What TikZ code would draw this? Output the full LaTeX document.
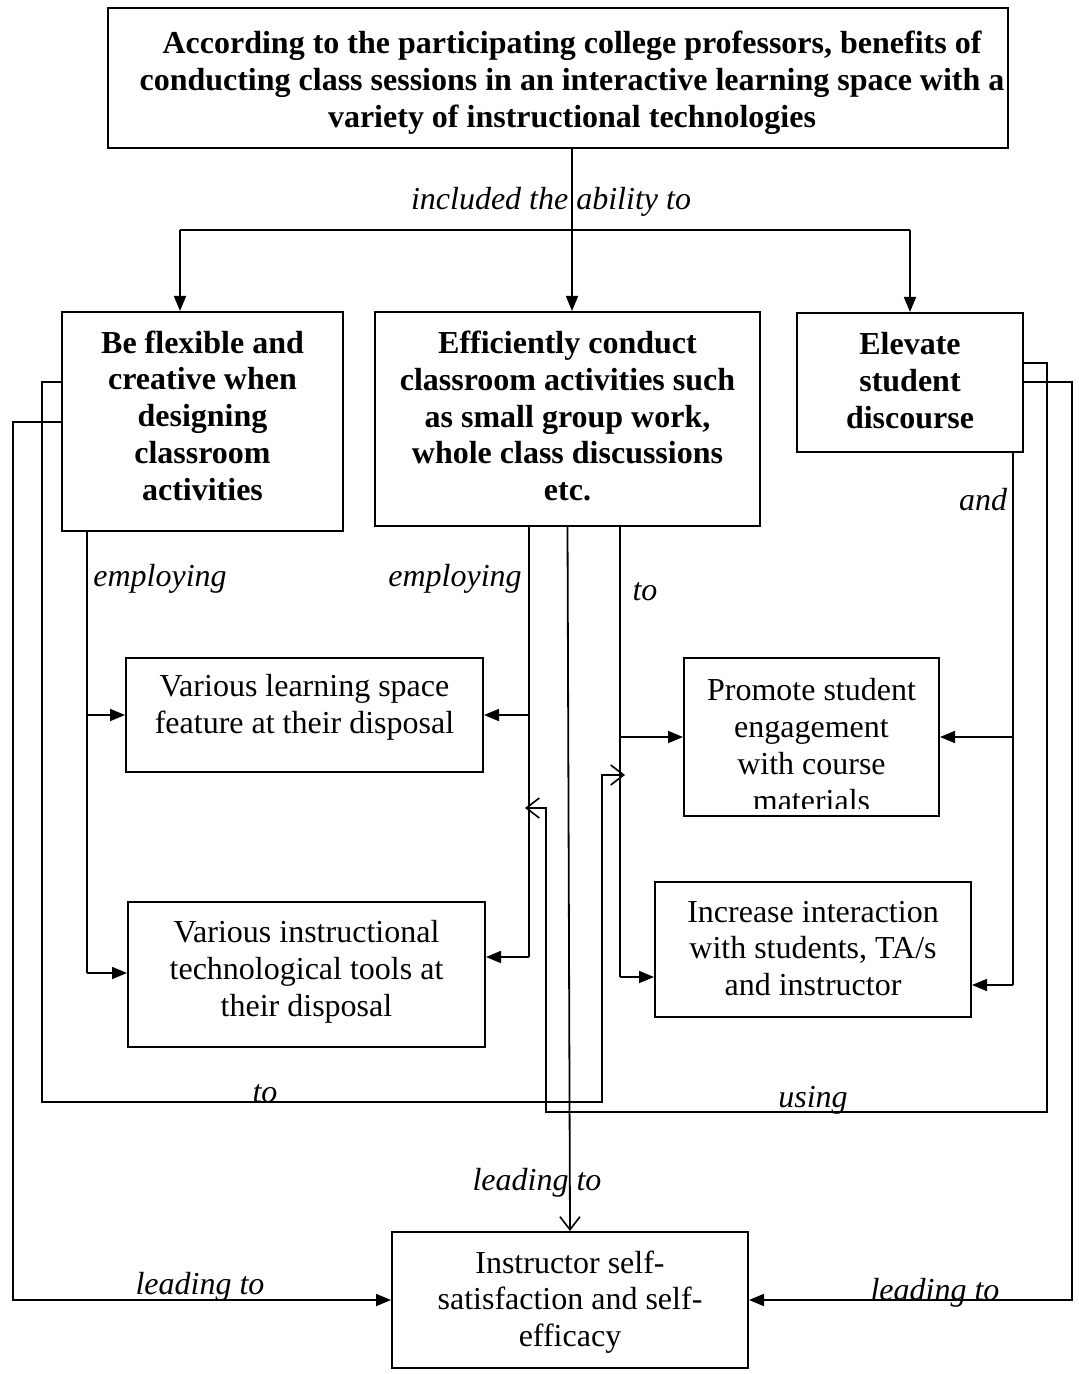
\documentclass[tikz,border=0pt]{standalone}
\usepackage{fontspec}
\setmainfont{Liberation Serif}
\usetikzlibrary{arrows.meta,calc}

\begin{document}
\begin{tikzpicture}[x=0.5pt,y=-0.5pt,
  font=\fontsize{16}{18.4}\selectfont,
  box/.style={draw,line width=1pt,inner sep=0pt,anchor=center},
  txt/.style={align=center,inner sep=0pt,anchor=center},
  hdtxt/.style={txt,font=\fontsize{16}{18.4}\selectfont\bfseries},
  conn/.style={line width=0.9pt},
  arr/.style={conn,-{Triangle[length=7.5pt,width=6pt]}},
  openarr/.style={conn,-{Straight Barb[length=6.5pt,width=10pt,line width=0.8pt]}},
  lbl/.style={font=\fontsize{16}{18.4}\selectfont\itshape,anchor=base,inner sep=0pt}]

\useasboundingbox[fill=white] (0,0) rectangle (1078,1374);

% frames
\node[box,minimum width=450pt,minimum height=70pt] (top) at (558,78) {};
\node[box,minimum width=140.5pt,minimum height=109.5pt] (A) at (202.5,421.5) {};
\node[box,minimum width=192.5pt,minimum height=107pt] (B) at (567.5,419) {};
\node[box,minimum width=113pt,minimum height=69.5pt] (C) at (910,382.5) {};
\node[box,minimum width=178.5pt,minimum height=57pt] (D) at (304.5,715) {};
\node[box,minimum width=178.5pt,minimum height=72.5pt] (E) at (306.5,974.5) {};
\node[box,minimum width=127.5pt,minimum height=79pt] (F) at (811.5,737) {};
\node[box,minimum width=158pt,minimum height=67.5pt] (G) at (813,949.5) {};
\node[box,minimum width=178pt,minimum height=68pt] (H) at (570,1300) {};

% texts of the frames
\node[hdtxt] (topText) at (572,83)
  {According to the participating college professors, benefits of\\
   conducting class sessions in an interactive learning space with a\\
   variety of instructional technologies};
\node[hdtxt] (AText) at (202.5,415.5)
  {Be flexible and\\creative when\\designing\\classroom\\activities};
\node[hdtxt] (BText) at (567.5,416)
  {Efficiently conduct\\classroom activities such\\as small group work,\\whole class discussions\\etc.};
\node[hdtxt] (CText) at (910,380.5) {Elevate\\student\\discourse};
\node[txt] (DText) at (304.5,707) {Various learning space\\feature at their disposal};
\node[txt] (EText) at (306.5,972) {Various instructional\\technological tools at\\their disposal};
\node[txt] (GText) at (813,948.5) {Increase interaction\\with students, TA/s\\and instructor};
\node[txt] (HText) at (570,1302) {Instructor self-\\satisfaction and self-\\efficacy};

% text of the engagement frame, cut off at its lower edge
\begin{scope}
  \clip (F.north west) rectangle (939,808);
  \node[txt,anchor=north] (FText) at (811.5,678)
    {Promote student\\engagement\\with course\\materials};
\end{scope}

% branching from the top frame
\coordinate (brL) at (180,230);
\coordinate (brR) at (910,230);
\draw[conn] (brL) -- (brR);
\draw[arr] (572,0 |- top.south) -- (572,0 |- B.north);
\draw[arr] (brL) -- (brL |- A.north);
\draw[arr] (brR) -- (brR |- C.north);
\node[lbl] (l1) at (551,210) {included the ability to};

% employing (left column)
\draw[conn] (87,0 |- A.south) -- (87,973);
\draw[arr] (87,715) -- (D.west);
\draw[arr] (87,973) -- (E.west |- 0,973);
\node[lbl] (l2) at (160,586) {employing};

% employing (middle column)
\draw[conn] (529,0 |- B.south) -- (529,957);
\draw[arr] (529,715) -- (D.east);
\draw[arr] (529,957) -- (E.east |- 0,957);
\node[lbl] (l3) at (455,586) {employing};

% to (middle column)
\draw[conn] (620,0 |- B.south) -- (620,977);
\draw[arr] (620,737) -- (F.west);
\draw[arr] (620,977) -- (G.west |- 0,977);
\node[lbl] (l4) at (645,600) {to};

% and (right column)
\draw[conn] (1013,0 |- C.south) -- (1013,985);
\draw[arr] (1013,737) -- (F.east);
\draw[arr] (1013,985) -- (G.east |- 0,985);
\node[lbl] (l5) at (983,510) {and};

% leading to (centre)
\draw[openarr] (B.south) -- (H.north);
\node[lbl] (l6) at (537,1190) {leading to};

% loop "to" from the left frame
\coordinate (toEnd) at (625,775);
\draw[openarr] (A.west |- 0,382) -- (42,382) -- (42,1102) -- (602,1102) -- (602,775) -- (toEnd);
\node[lbl] (l7) at (265,1102) {to};

% loop "leading to" from the left frame
\draw[arr] (A.west |- 0,422) -- (13,422) -- (13,1300) -- (H.west);
\node[lbl] (l8) at (200,1294) {leading to};

% loop "using" from the right frame
\coordinate (useEnd) at (525,808);
\draw[openarr] (C.east |- 0,363) -- (1047,363) -- (1047,1112) -- (546,1112) -- (546,808) -- (useEnd);
\node[lbl] (l9) at (813,1107) {using};

% loop "leading to" from the right frame
\draw[arr] (C.east |- 0,382) -- (1072,382) -- (1072,1300) -- (H.east);
\node[lbl] (l10) at (935,1300) {leading to};

\end{tikzpicture}
\end{document}
